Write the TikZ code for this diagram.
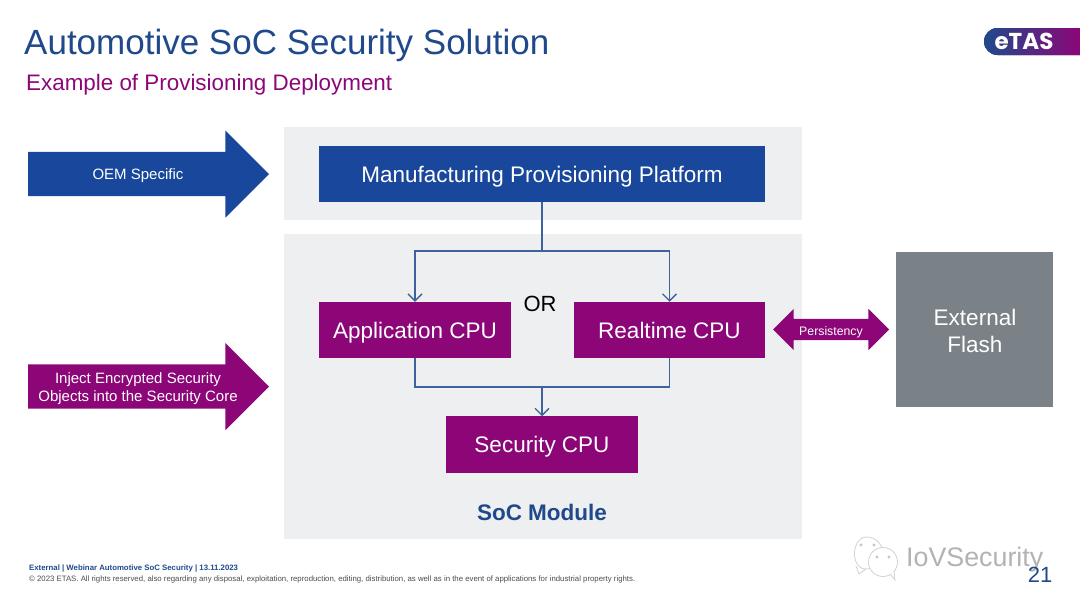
\documentclass[tikz,border=0pt]{standalone}
\usepackage{fontspec}
\setmainfont{Liberation Sans}
\newfontfamily\logofont{Poppins}
\usepackage{xcolor}
\definecolor{etasblue}{RGB}{24, 71, 155}
\definecolor{etastitle}{RGB}{31, 73, 139}
\definecolor{etasline}{RGB}{62, 98, 158}
\definecolor{etaspurple}{RGB}{140, 6, 120}
\definecolor{etasgrey}{RGB}{122, 130, 135}
\definecolor{panelgrey}{RGB}{238, 239, 241}
\usepackage{tikz}
\usetikzlibrary{arrows.meta,shapes.arrows}

\begin{document}
\begin{tikzpicture}[
  x=1pt, y=-1pt,
  panel/.style={fill=panelgrey, anchor=center, inner sep=0pt, outer sep=0pt},
  cpu/.style={fill=etaspurple, text=white, minimum width=191.5pt, minimum height=56.5pt, inner sep=0pt, outer sep=0pt, text height=16pt, text depth=0pt, font=\fontsize{22.5}{26}\selectfont},
  bigarrow/.style={single arrow, single arrow head extend=21.5pt, single arrow head indent=0pt, minimum height=241pt, text height=44pt, text depth=0pt, inner sep=0pt, outer sep=0pt, anchor=tail},
  arrowtext/.style={text=white, align=center, inner sep=0pt, font=\fontsize{15}{18}\selectfont},
  link/.style={draw=etasline, line width=1.3pt, -{Straight Barb[length=7pt,width=14pt]}},
  wire/.style={draw=etasline, line width=1.3pt},
  eye/.style={circle, fill=gray!45, inner sep=1.2pt},
  bubble/.style={draw=gray!35, fill=white, line width=0.8pt}
]
  \useasboundingbox (0,0) rectangle (1080,608);

  % Heading
  \node[anchor=west, inner sep=0pt, text=etastitle, font=\fontsize{35}{40}\selectfont] (title) at (24,45) {Automotive SoC Security Solution};
  \node[anchor=west, inner sep=0pt, text=etaspurple, font=\fontsize{22.4}{26}\selectfont] (subtitle) at (26,85) {Example of Provisioning Deployment};

  % Logo
  \fill[left color=etastitle, middle color=etaspurple!70!etastitle, right color=etaspurple] (1080,28) -- (997.5,28) arc (90:270:13.5pt) -- (1080,55) -- cycle;
  \node[inner sep=0pt, text=white, font=\fontsize{23}{26}\selectfont\logofont\bfseries] (logo) at (1024,41.5) {eTAS};

  % Panels
  \node[panel, minimum width=518pt, minimum height=93pt] (toppanel) at (543,173.5) {};
  \node[panel, minimum width=518pt, minimum height=305pt] (socpanel) at (543,386.5) {};

  % Blocks
  \node[fill=etasblue, text=white, minimum width=446pt, minimum height=56.5pt, inner sep=0pt, outer sep=0pt, text height=16pt, text depth=0pt, font=\fontsize{22.5}{26}\selectfont] (mpp) at (542,174) {Manufacturing Provisioning Platform};
  \node[cpu] (app) at (415,330) {Application CPU};
  \node[cpu] (rt)  at (669.5,330) {Realtime CPU};
  \node[cpu] (sec) at (542,444.5) {Security CPU};
  \node[fill=etasgrey, minimum width=157pt, minimum height=155pt, inner sep=0pt, outer sep=0pt] (flash) at (974.5,329.5) {};
  \node[inner sep=0pt, text=white, align=center, font=\fontsize{22.5}{27}\selectfont] (flashtext) at (975,331) {External\\Flash};

  % Labels
  \node[inner sep=0pt, font=\fontsize{22}{26}\selectfont] (ortext) at (540,304) {OR};
  \node[inner sep=0pt, text=etastitle, font=\fontsize{22.5}{26}\selectfont\bfseries] (soclabel) at (542,512) {SoC Module};

  % Side arrows
  \node[bigarrow, fill=etasblue] (oem) at (28,174) {};
  \node[arrowtext] (oemtext) at (138,176) {OEM Specific};
  \node[bigarrow, fill=etaspurple] (inject) at (28,386.5) {};
  \node[arrowtext] (injecttext) at (138,389) {Inject Encrypted Security\\Objects into the Security Core};
  \node[double arrow, double arrow head extend=10pt, double arrow head indent=0pt, minimum height=116pt, text height=21pt, text depth=0pt, inner sep=0pt, outer sep=0pt, fill=etaspurple] (persist) at (831,329.5) {};
  \node[arrowtext, font=\fontsize{12.3}{14}\selectfont] (persisttext) at (831,332) {Persistency};

  % Connectors
  \coordinate (split) at (542,251);
  \coordinate (merge) at (542,387);
  \draw[wire] (mpp.south) -- (split);
  \draw[link] (split) -| (app.north);
  \draw[link] (split) -| (rt.north);
  \draw[wire] (app.south) |- (merge);
  \draw[wire] (rt.south) |- (merge);
  \draw[link] (merge) -- (sec.north);

  % Footer
  \node[anchor=west, inner sep=0pt, text=etastitle, font=\fontsize{7.8}{9}\selectfont\bfseries] (foota) at (29,568.5) {External | Webinar Automotive SoC Security | 13.11.2023};
  \node[anchor=west, inner sep=0pt, text=black!70, font=\fontsize{7.8}{9}\selectfont] (footb) at (29,579) {© 2023 ETAS. All rights reserved, also regarding any disposal, exploitation, reproduction, editing, distribution, as well as in the event of applications for industrial property rights.};

  % Watermark
  \draw[bubble] (856,566) -- (859,574) -- (866,569) .. controls (850,569) and (851,537) .. (867,537) .. controls (876,537) and (883,545) .. (883,553) .. controls (883,562) and (875,569) .. (866,569);
  \draw[bubble] (883,562) circle (14.5pt);
  \draw[bubble] (890,574) -- (895,580) -- (894,571);
  \foreach \x/\y in {861/545, 874/545, 877/557, 889/557} {
    \node[eye] at (\x,\y) {};
  }
  \node[anchor=west, inner sep=0pt, text=gray!60, font=\fontsize{26.8}{30}\selectfont] (mark) at (906,560) {IoVSecurity};
  \node[inner sep=0pt, text=etastitle, font=\fontsize{22}{26}\selectfont] (pageno) at (1040,575) {21};
\end{tikzpicture}
\end{document}
